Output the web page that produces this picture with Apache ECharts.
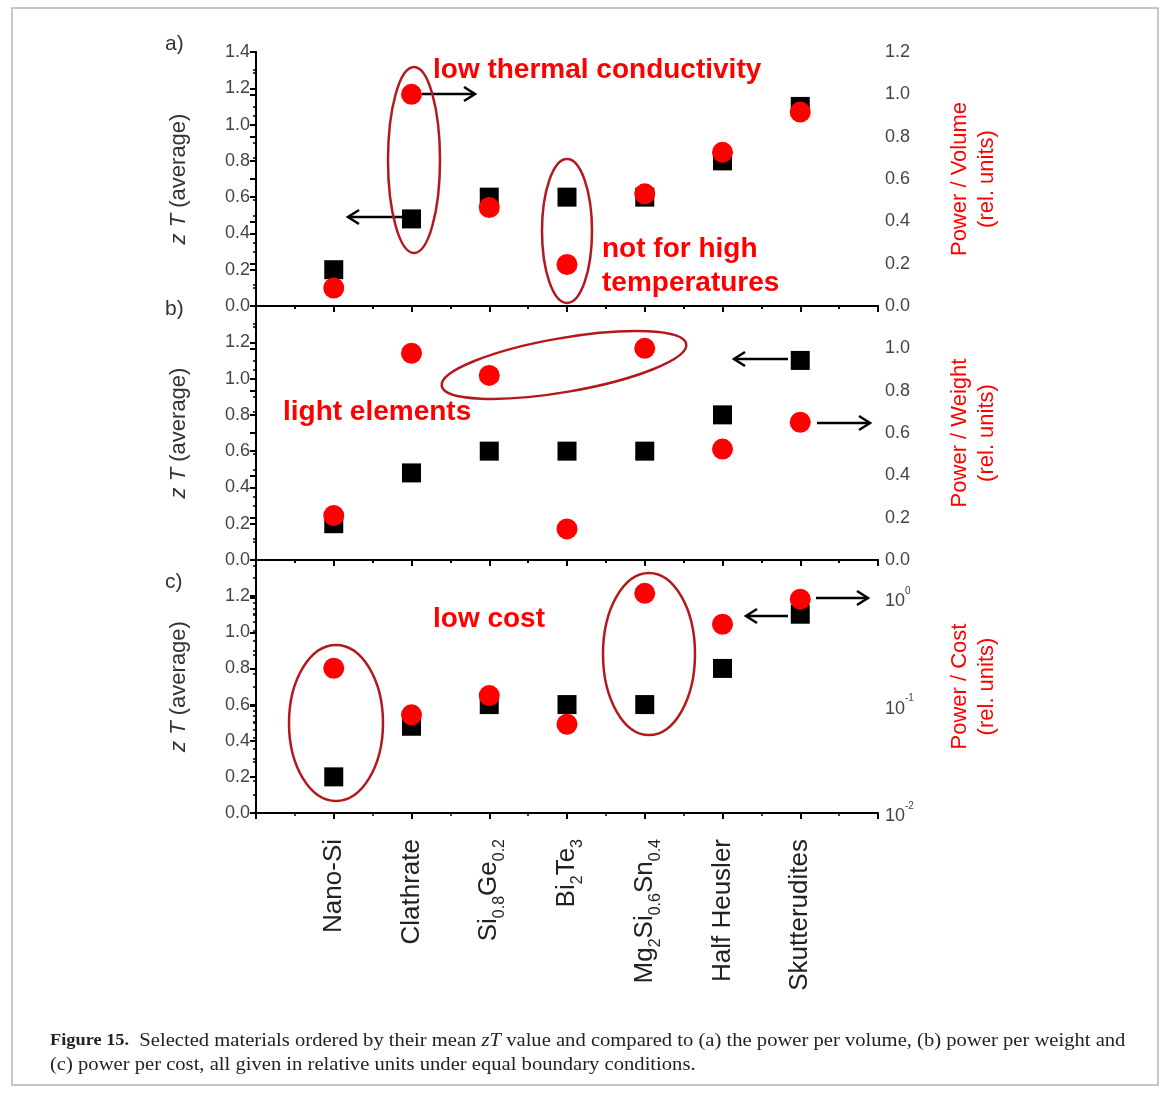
<!DOCTYPE html>
<html><head><meta charset="utf-8">
<script src="https://cdn.jsdelivr.net/npm/echarts@6/dist/echarts.min.js"></script>
<style>html,body{margin:0;padding:0;background:#fff}#c{width:1170px;height:1093px}</style>
</head><body><div id="c"></div>
<script>
// ---- data ----
const categories = ['Nano-Si', 'Clathrate', 'Si0.8Ge0.2', 'Bi2Te3', 'Mg2Si0.6Sn0.4', 'Half Heusler', 'Skutterudites'];
const categoryLabels = [
  '{n|Nano-Si}',
  '{n|Clathrate}',
  '{n|Si}{s|0.8}{n|Ge}{s|0.2}',
  '{n|Bi}{s|2}{n|Te}{s|3}',
  '{n|Mg}{s|2}{n|Si}{s|0.6}{n|Sn}{s|0.4}',
  '{n|Half Heusler}',
  '{n|Skutterudites}'
];
const zT = [0.2, 0.48, 0.6, 0.6, 0.6, 0.8, 1.1];
const powerPerVolume = [0.085, 1.0, 0.465, 0.196, 0.53, 0.726, 0.916];
const powerPerWeight = [0.21, 0.977, 0.872, 0.147, 1.0, 0.524, 0.651];
const powerPerCost = [0.223, 0.082, 0.124, 0.067, 1.11, 0.573, 0.98];
const leftTicks = [0, 1.4, 0.2];       // min, max, step of zT axes
const rightLinTicks = [0, 1.2, 0.2];   // min, max, step of power/volume & power/weight
const rightLogRange = [0.01, 2.27];    // power/cost log axis
const panelLetters = ['a)', 'b)', 'c)'];
const rightNames = ['Power / Volume\n(rel. units)', 'Power / Weight\n(rel. units)', 'Power / Cost\n(rel. units)'];

// ---- layout ----
const FONT = '"Liberation Sans", Arial, sans-serif';
const grids = [
  {left: 256, right: 292, top: 52, height: 254},
  {left: 256, right: 292, top: 306, height: 254},
  {left: 256, right: 292, top: 560, height: 253}
];
const axisLine = {show: true, lineStyle: {color: '#000', width: 2}};
const xAxes = [], yAxes = [], series = [];
const redSets = [powerPerVolume, powerPerWeight, powerPerCost];

grids.forEach((g, i) => {
  const isLast = i === 2;
  // bottom x axis
  xAxes.push({
    gridIndex: i, type: 'value', position: 'bottom', min: 0, max: categories.length + 1, interval: 1,
    axisLine, splitLine: {show: false},
    axisTick: {show: true, length: 6, lineStyle: {color: '#000', width: 2}},
    minorTick: {show: true, splitNumber: 2, length: 3, lineStyle: {color: '#000', width: 1.5}},
    axisLabel: isLast ? {
      show: true, rotate: 90, margin: 26, interval: 0,
      formatter: v => (Number.isInteger(v) && v >= 1 && v <= categories.length) ? categoryLabels[v - 1] : '',
      rich: {
        n: {fontSize: 26, fontFamily: FONT, color: '#222', lineHeight: 37, verticalAlign: 'middle'},
        s: {fontSize: 16, fontFamily: FONT, color: '#222', lineHeight: 37, verticalAlign: 'bottom'}
      }
    } : {show: false}
  });
  // top x axis (mirror)
  xAxes.push({
    gridIndex: i, type: 'value', position: 'top', min: 0, max: categories.length + 1, interval: 1,
    axisLine, splitLine: {show: false},
    axisTick: {show: true, inside: true, length: 6, lineStyle: {color: '#000', width: 2}},
    minorTick: {show: true, splitNumber: 2, length: 3, lineStyle: {color: '#000', width: 1.5}},
    axisLabel: {show: false}
  });
  // left zT axis
  yAxes.push({
    gridIndex: i, type: 'value', position: 'left', min: leftTicks[0], max: leftTicks[1], interval: leftTicks[2],
    axisLine, splitLine: {show: false},
    axisTick: {show: true, length: 6, lineStyle: {color: '#000', width: 2}},
    minorTick: {show: true, splitNumber: 2, length: 3, lineStyle: {color: '#000', width: 1.5}},
    axisLabel: {show: true, margin: 6, fontSize: 18, fontFamily: FONT, color: '#444',
      showMaxLabel: i === 0, formatter: v => v.toFixed(1)},
    name: '{i|z T} (average)', nameLocation: 'middle', nameGap: 66, nameRotate: 90,
    nameTextStyle: {fontSize: 22, fontFamily: FONT, color: '#333',
      rich: {i: {fontSize: 22, fontFamily: FONT, fontStyle: 'italic', color: '#333'}}}
  });
  // right axis
  if (!isLast) {
    yAxes.push({
      gridIndex: i, type: 'value', position: 'right', min: rightLinTicks[0], max: rightLinTicks[1], interval: rightLinTicks[2],
      axisLine, splitLine: {show: false},
      axisTick: {show: true, inside: true, length: 6, lineStyle: {color: '#000', width: 2}},
      minorTick: {show: true, splitNumber: 2, length: 3, lineStyle: {color: '#000', width: 1.5}},
      axisLabel: {show: true, margin: 7, fontSize: 18, fontFamily: FONT, color: '#444',
        showMaxLabel: i === 0, formatter: v => v.toFixed(1)},
      name: rightNames[i], nameLocation: 'middle', nameGap: 68, nameRotate: 90,
      nameTextStyle: {fontSize: 22, fontFamily: FONT, color: '#f00', lineHeight: 27}
    });
  } else {
    yAxes.push({
      gridIndex: i, type: 'log', logBase: 10, position: 'right', min: rightLogRange[0], max: rightLogRange[1],
      axisLine, splitLine: {show: false},
      axisTick: {show: true, inside: true, length: 6, lineStyle: {color: '#000', width: 2}},
      minorTick: {show: true, splitNumber: 9, length: 3, lineStyle: {color: '#000', width: 1.5}},
      axisLabel: {show: true, margin: 7, showMaxLabel: false,
        formatter: v => {
          const e = Math.log10(v);
          if (Math.abs(e - Math.round(e)) > 1e-6) return '';
          return '{b|10}{s|' + Math.round(e) + '}';
        },
        rich: {
          b: {fontSize: 18, fontFamily: FONT, color: '#444', lineHeight: 24, verticalAlign: 'bottom'},
          s: {fontSize: 10, fontFamily: FONT, color: '#444', lineHeight: 24, verticalAlign: 'top'}
        }},
      name: rightNames[i], nameLocation: 'middle', nameGap: 68, nameRotate: 90,
      nameTextStyle: {fontSize: 22, fontFamily: FONT, color: '#f00', lineHeight: 27}
    });
  }
  series.push({
    type: 'scatter', xAxisIndex: i * 2, yAxisIndex: i * 2, symbol: 'rect', symbolSize: 19,
    itemStyle: {color: '#000', opacity: 1}, z: 2,
    data: zT.map((v, k) => [k + 1, v])
  });
  series.push({
    type: 'scatter', xAxisIndex: i * 2, yAxisIndex: i * 2 + 1, symbol: 'circle', symbolSize: 21,
    itemStyle: {color: '#f00', opacity: 1}, z: 3,
    data: redSets[i].map((v, k) => [k + 1, v])
  });
});

// ---- annotations ----
const ELL = '#b3181c';
function ellipse(cx, cy, rx, ry, rot) {
  return {type: 'ellipse', x: cx, y: cy, rotation: rot || 0, z: 10,
    shape: {cx: 0, cy: 0, rx, ry}, style: {fill: null, stroke: ELL, lineWidth: 2.5}};
}
function arrow(x1, y1, x2, y2) {
  const dir = Math.sign(x2 - x1);
  return {type: 'group', z: 10, children: [
    {type: 'line', shape: {x1, y1, x2, y2}, style: {stroke: '#000', lineWidth: 2.5}},
    {type: 'polyline', shape: {points: [[x2 - dir * 11, y2 - 7], [x2, y2], [x2 - dir * 11, y2 + 7]]},
      style: {stroke: '#000', lineWidth: 2.5, fill: null}}
  ]};
}
function redText(x, y, t) {
  return {type: 'text', x, y, z: 11,
    style: {text: t, fill: '#f00', font: 'bold 28px ' + FONT, textVerticalAlign: 'middle'}};
}
const graphic = [
  {type: 'rect', shape: {x: 12, y: 8, width: 1146, height: 1077}, style: {fill: null, stroke: '#b5b5b5', lineWidth: 1.5}, z: 0},
  ellipse(414, 160, 26, 93),
  ellipse(567, 231, 25, 72),
  ellipse(564, 365, 124, 27, 0.17),
  ellipse(336, 723, 47, 78),
  ellipse(649, 654, 46, 81),
  arrow(422, 94, 475, 94),
  arrow(402, 217, 348, 217),
  arrow(788, 359, 734, 359),
  arrow(817, 423, 870, 423),
  arrow(788, 616, 746, 616),
  arrow(816, 598, 868, 598),
  redText(433, 70, 'low thermal conductivity'),
  redText(602, 249, 'not for high'),
  redText(602, 283, 'temperatures'),
  redText(283, 412, 'light elements'),
  redText(433, 619, 'low cost'),
  {type: 'text', x: 165, y: 44, style: {text: panelLetters[0], fill: '#333', font: '21px ' + FONT, textVerticalAlign: 'middle'}},
  {type: 'text', x: 165, y: 309, style: {text: panelLetters[1], fill: '#333', font: '21px ' + FONT, textVerticalAlign: 'middle'}},
  {type: 'text', x: 165, y: 582, style: {text: panelLetters[2], fill: '#333', font: '21px ' + FONT, textVerticalAlign: 'middle'}},
  {type: 'text', x: 50, y: 1029, scaleX: 1.145, style: {
    text: '{b|Figure 15.}  Selected materials ordered by their mean {i|zT} value and compared to (a) the power per volume, (b) power per weight and\n(c) power per cost, all given in relative units under equal boundary conditions.',
    fill: '#222', font: '18px "Liberation Serif", "DejaVu Serif", serif', lineHeight: 24,
    rich: {
      b: {fontWeight: 'bold', fontSize: 16, fontFamily: '"Liberation Serif", serif', fill: '#222', lineHeight: 24},
      i: {fontStyle: 'italic', fontSize: 18, fontFamily: '"Liberation Serif", serif', fill: '#222', lineHeight: 24}
    }
  }}
];

const chart = echarts.init(document.getElementById('c'), null, {renderer: 'canvas'});
chart.setOption({
  animation: false,
  backgroundColor: '#fff',
  grid: grids,
  xAxis: xAxes,
  yAxis: yAxes,
  series,
  graphic
});
</script>
</body></html>
